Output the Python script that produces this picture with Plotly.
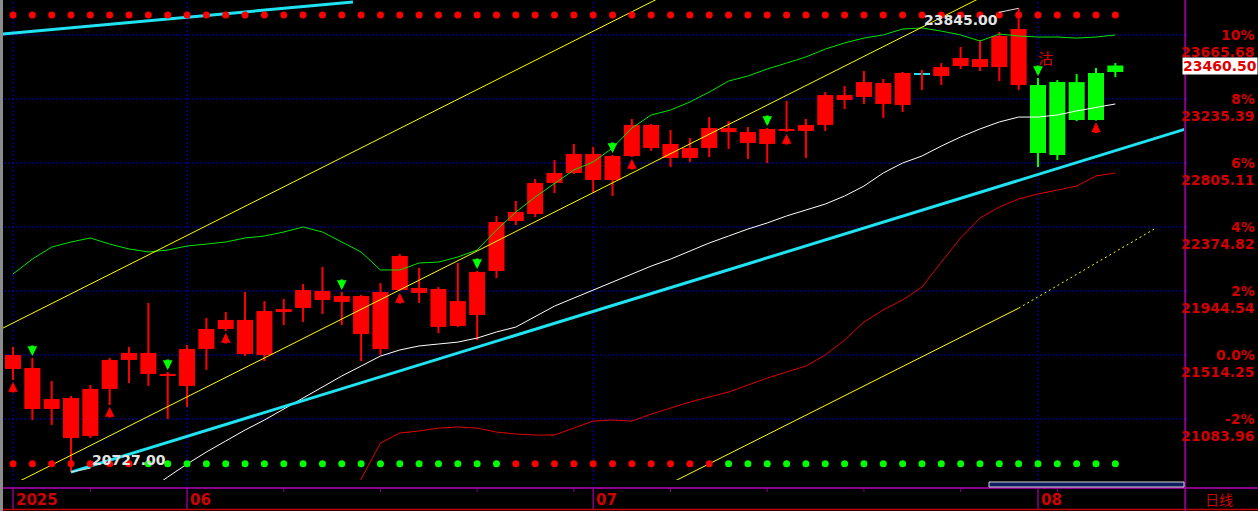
import plotly.graph_objects as go

# ---------------- data ----------------
idx = list(range(58))
month_idx = [0, 9, 30, 53]
month_text = ["2025", "06", "07", "08"]
week_idx = [4, 14, 19, 24, 29, 34, 39, 44, 49, 54]

open_ = [21420, 21151, 21151, 20956, 20970, 21286, 21481, 21387, 21373, 21306,
         21555, 21689, 21521, 21514, 21803, 21830, 21884, 21871, 21655, 21555,
         21951, 21931, 21703, 21709, 21783, 22079, 22415, 22462, 22671, 22738,
         22691, 22691, 22852, 22906, 22839, 22839, 22906, 23013, 22940, 22933,
         23020, 23020, 23061, 23229, 23249, 23202, 23195, 23400, 23390, 23457,
         23450, 23450, 23329, 22872, 22859, 23094, 23094, 23417]
close = [21514, 21427, 21218, 21225, 21286, 21481, 21528, 21528, 21387, 21555,
         21689, 21750, 21750, 21810, 21823, 21951, 21945, 21911, 21911, 21938,
         22180, 21965, 21958, 21877, 22072, 22408, 22476, 22671, 22738, 22866,
         22866, 22852, 23061, 23061, 22933, 22906, 23040, 23040, 23013, 23034,
         23034, 23061, 23262, 23262, 23349, 23343, 23410, 23400, 23450, 23511,
         23504, 23659, 23706, 23329, 23349, 23349, 23410, 23460.5]
high = [21568, 21494, 21339, 21239, 21313, 21494, 21568, 21864, 21400, 21581,
        21763, 21803, 21938, 21877, 21891, 21992, 22106, 21938, 21918, 21998,
        22193, 22099, 21971, 22133, 22079, 22449, 22550, 22698, 22825, 22933,
        22913, 22859, 23101, 23067, 23027, 22973, 23114, 23087, 23047, 23040,
        23222, 23101, 23282, 23323, 23424, 23370, 23417, 23430, 23477, 23585,
        23632, 23686, 23845, 23376, 23363, 23403, 23444, 23477]
low = [21346, 21077, 21044, 20727, 20956, 21178, 21326, 21306, 21084, 21165,
       21414, 21676, 21507, 21474, 21716, 21736, 21790, 21716, 21474, 21514,
       21945, 21864, 21662, 21703, 21615, 22032, 22388, 22442, 22603, 22731,
       22603, 22583, 22845, 22886, 22778, 22812, 22845, 22899, 22832, 22805,
       23013, 22839, 23020, 23168, 23202, 23108, 23148, 23296, 23329, 23437,
       23424, 23356, 23296, 22778, 22825, 23087, 23090, 23383]

candle_state = ("RRRRRRRRRR" "RRRRRRRRRR" "RRRRRRRRRR" "RRRRRRRRRR" "RRRRRRRRRR"
                "RRRGGGGG")
top_dots = ("RRRRRRRRRR" "RRRRRRRRRR" "RRRRRRRRRR" "RRRRRRRRRR" "RRRRRRRRRR"
            "RRRRRRRR")
bottom_dots = ("RRRRRRRGGG" "GGGGGGGGGG" "GGGGGGRRRR" "RRRRRRRGGG" "GGGGGGGGGG"
               "GGGGGGGG")

upper_line = [22059, 22159, 22240, 22274, 22301, 22260, 22227, 22207, 22220, 22247,
              22260, 22274, 22301, 22314, 22341, 22375, 22341, 22274, 22207, 22086,
              22086, 22133, 22139, 22173, 22220, 22354, 22475, 22576, 22670, 22758,
              22812, 22906, 23040, 23128, 23161, 23215, 23282, 23356, 23390, 23437,
              23477, 23518, 23571, 23612, 23645, 23666, 23706, 23713, 23692, 23666,
              23625, 23672, 23659, 23652, 23652, 23645, 23652, 23666]
mid_line = [None, None, None, None, None, None, None,
            20600, 20694, 20781, 20862, 20936, 21010, 21077, 21151, 21225, 21299,
            21373, 21440, 21507, 21548, 21575, 21588, 21601, 21628, 21669, 21702,
            21770, 21843, 21897, 21951, 22005, 22059, 22112, 22159, 22213, 22267,
            22314, 22361, 22402, 22449, 22489, 22529, 22583, 22650, 22738, 22805,
            22852, 22919, 22980, 23034, 23081, 23114, 23114, 23128, 23155, 23181,
            23202]
lower_line = [None, None, None, None, None, None, None, None, None, None,
              None, None, None, None, None, None, None,
              20438, 20680, 20922, 20990, 21003, 21023, 21030, 21023, 20996, 20983,
              20976, 20976, 21023, 21070, 21077, 21070, 21117, 21158, 21198, 21232,
              21265, 21312, 21359, 21400, 21440, 21514, 21615, 21736, 21817, 21884,
              21971, 22139, 22301, 22435, 22509, 22563, 22597, 22623, 22650, 22718,
              22738]

# drawn trend lines (anchor points: candle index, price)
cyan_top_x, cyan_top_y = [-0.52, 17.58], [23672, 23887]
cyan_low_x, cyan_low_y = [3, 60.6], [20727, 23032]
yel_up_x, yel_up_y = [-1, 35], [21664, 24018]
yel_mid_x, yel_mid_y = [0, 52], [20644, 24045]
yel_low_x, yel_low_y = [34, 52], [20652, 21829]
yel_ext_x, yel_ext_y = [52, 59], [21829, 22360]

pct_labels = ["10%", "8%", "6%", "4%", "2%", "0.0%", "-2%"]
price_ticks = [23665.68, 23235.39, 22805.11, 22374.82, 21944.54, 21514.25, 21083.96]
price_labels = ["23665.68", "23235.39", "22805.11", "22374.82", "21944.54", "21514.25", "21083.96"]

green_down_idx = [1, 8, 17, 24, 31, 39, 53]
red_up_idx = [0, 5, 11, 20, 32, 40, 56]
sell_idx = 53
hi_idx, lo_idx = 52, 3

# ---------------- style ----------------
RED = "#ff0000"
GREEN = "#00ff00"
CYAN = "#1fe3f2"
YELLOW = "#ffff00"
LABEL_RED = "#d00000"
GRID = "#0000c8"
PURPLE = "#8a008a"
NUM_FONT = "DejaVu Sans"

fig = go.Figure()

def body_color(i):
    if open_[i] == close[i]:
        return CYAN
    return GREEN if candle_state[i] == "G" else RED

bottoms = [min(o, c) for o, c in zip(open_, close)]
heights = [max(abs(c - o), 9) for o, c in zip(open_, close)]
fig.add_trace(go.Bar(x=idx, base=bottoms, y=heights, width=0.83,
                     marker=dict(color=[body_color(i) for i in idx], line=dict(width=0)),
                     hoverinfo="skip"))

for st, col in (("R", RED), ("G", GREEN)):
    wx, wy = [], []
    for i in idx:
        if candle_state[i] == st:
            wx += [i, i, None]
            wy += [low[i], high[i], None]
    fig.add_trace(go.Scatter(x=wx, y=wy, mode="lines", line=dict(color=col, width=2),
                             hoverinfo="skip"))

# indicator lines
fig.add_trace(go.Scatter(x=idx, y=upper_line, mode="lines", line=dict(color="#00e600", width=1)))
fig.add_trace(go.Scatter(x=idx, y=mid_line, mode="lines", line=dict(color="#ffffff", width=1)))
fig.add_trace(go.Scatter(x=idx, y=lower_line, mode="lines", line=dict(color="#e00000", width=1)))

# trend lines
for xs, ys in ((yel_up_x, yel_up_y), (yel_mid_x, yel_mid_y), (yel_low_x, yel_low_y)):
    fig.add_trace(go.Scatter(x=xs, y=ys, mode="lines", line=dict(color=YELLOW, width=1)))
fig.add_trace(go.Scatter(x=yel_ext_x, y=yel_ext_y, mode="lines",
                         line=dict(color=YELLOW, width=1, dash="2px,3px")))
for xs, ys in ((cyan_top_x, cyan_top_y), (cyan_low_x, cyan_low_y)):
    fig.add_trace(go.Scatter(x=xs, y=ys, mode="lines", line=dict(color=CYAN, width=3)))

# signal dot rows
fig.add_trace(go.Scatter(x=idx, y=[0.969] * len(idx), yaxis="y2", mode="markers",
                         marker=dict(size=7, color=[RED if s == "R" else GREEN for s in top_dots])))
fig.add_trace(go.Scatter(x=idx, y=[0.034] * len(idx), yaxis="y2", mode="markers",
                         marker=dict(size=7, color=[RED if s == "R" else GREEN for s in bottom_dots])))

PX = 480.0  # plot height in px
shapes = []
for p in price_ticks:
    shapes.append(dict(type="line", xref="paper", x0=0, x1=1, yref="y", y0=p, y1=p,
                       line=dict(color=GRID, width=1, dash="2px,2px"), layer="below"))
    shapes.append(dict(type="line", xref="paper", x0=1, x1=1 + 3 / 1184, yref="y", y0=p, y1=p,
                       line=dict(color="#3030ff", width=1)))
for m in month_idx:
    shapes.append(dict(type="line", xref="x", x0=m, x1=m, yref="paper", y0=-8 / PX, y1=1,
                       line=dict(color=GRID, width=1, dash="2px,2px"), layer="below"))
    shapes.append(dict(type="line", xref="x", x0=m, x1=m, yref="paper", y0=-8 / PX, y1=-29 / PX,
                       line=dict(color=PURPLE, width=1.5)))
for w in week_idx:
    shapes.append(dict(type="line", xref="x", x0=w, x1=w, yref="paper", y0=-8 / PX, y1=-12 / PX,
                       line=dict(color=PURPLE, width=1)))
shapes += [
    dict(type="line", xref="paper", x0=0, x1=1258 / 1184, yref="paper", y0=-8 / PX, y1=-8 / PX,
         line=dict(color=PURPLE, width=2)),
    dict(type="line", xref="paper", x0=0, x1=1258 / 1184, yref="paper", y0=-29.5 / PX, y1=-29.5 / PX,
         line=dict(color="#c00000", width=1.5)),
    dict(type="line", xref="paper", x0=1.001, x1=1.001, yref="paper", y0=-31 / PX, y1=1,
         line=dict(color=PURPLE, width=2)),
    dict(type="rect", xref="paper", x0=0, x1=3 / 1184, yref="paper", y0=-31 / PX, y1=1,
         fillcolor="#8c8c8c", line=dict(width=0)),
    dict(type="rect", xref="paper", x0=989 / 1184, x1=1, yref="paper", y0=-7 / PX, y1=-2 / PX,
         fillcolor="#0c1c5e", line=dict(color="#d8d8d8", width=1)),
]

ann = []
for p, pl, vl in zip(price_ticks, pct_labels, price_labels):
    ann.append(dict(xref="paper", x=1, xanchor="right", xshift=73, yref="y", y=p, yanchor="middle",
                    text="<b>%s</b>" % pl, showarrow=False,
                    font=dict(family=NUM_FONT, size=14, color=LABEL_RED)))
    ann.append(dict(xref="paper", x=1, xanchor="right", xshift=73, yref="y", y=p, yanchor="middle",
                    yshift=-17, text="<b>%s</b>" % vl, showarrow=False,
                    font=dict(family=NUM_FONT, size=14, color=LABEL_RED)))
ann.append(dict(xref="paper", x=1, xanchor="right", xshift=74, yref="y", y=close[-1], yanchor="middle",
                text="<b>%.2f</b>" % close[-1], showarrow=False, bgcolor="#ffffff", borderpad=0,
                font=dict(family=NUM_FONT, size=14, color="#e00000")))
for m, t in zip(month_idx, month_text):
    ann.append(dict(xref="x", x=m, xanchor="left", xshift=1, yref="paper", y=0, yanchor="middle",
                    yshift=-20, text="<b>%s</b>" % t, showarrow=False,
                    font=dict(family=NUM_FONT, size=15, color=LABEL_RED)))
ann.append(dict(xref="paper", x=1, xanchor="left", xshift=19, yref="paper", y=0, yanchor="middle",
                yshift=-19, text="日线", showarrow=False,
                font=dict(family="Noto Sans CJK SC", size=14, color=LABEL_RED)))
ann.append(dict(xref="x", x=hi_idx, yref="y", y=high[hi_idx], text="<b>%.2f</b>" % high[hi_idx],
                showarrow=True, arrowhead=0, arrowwidth=1, arrowcolor="#e0e0e0", ax=-58, ay=12,
                font=dict(family=NUM_FONT, size=14, color="#e4e4e4")))
ann.append(dict(xref="x", x=lo_idx, yref="y", y=low[lo_idx], text="<b>%.2f</b>" % low[lo_idx],
                showarrow=True, arrowhead=0, arrowwidth=1, arrowcolor="#e0e0e0", ax=58, ay=-12,
                font=dict(family=NUM_FONT, size=14, color="#e4e4e4")))
for i in green_down_idx:
    ann.append(dict(xref="x", x=i, yref="y", y=high[i], yshift=2, text="", showarrow=True,
                    arrowhead=2, arrowsize=0.65, arrowwidth=3, arrowcolor=GREEN, ax=0, ay=-12))
for i in red_up_idx:
    ann.append(dict(xref="x", x=i, yref="y", y=low[i], yshift=-2, text="", showarrow=True,
                    arrowhead=2, arrowsize=0.65, arrowwidth=3, arrowcolor=RED, ax=0, ay=12))
ann.append(dict(xref="x", x=sell_idx, yref="y", y=high[sell_idx], yshift=21, xshift=8, text="沽",
                showarrow=False, font=dict(family="Noto Sans CJK SC", size=15, color="#e00000")))

fig.update_layout(
    width=1258, height=511, margin=dict(l=0, r=74, t=0, b=31),
    paper_bgcolor="#000000", plot_bgcolor="#000000",
    showlegend=False, hovermode=False, barmode="overlay",
    xaxis=dict(range=[-0.672, 60.55], visible=False, fixedrange=True),
    yaxis=dict(range=[20673.85, 23900.95], visible=False, fixedrange=True),
    yaxis2=dict(range=[0, 1], overlaying="y", visible=False, fixedrange=True),
    shapes=shapes, annotations=ann,
)

fig.write_html("out.html", config={"displayModeBar": False},
               post_script="document.body.style.margin='0';document.body.style.background='#000';")
